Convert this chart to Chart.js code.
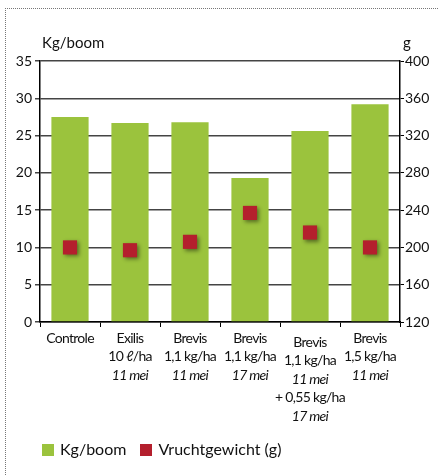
<!DOCTYPE html>
<html>
<head>
<meta charset="utf-8">
<script src="https://cdn.jsdelivr.net/npm/chart.js@4"></script>
<style>
  body { margin: 0; background: #fff; }
  #wrap { position: relative; width: 439px; height: 476px; overflow: hidden; font-family: Lato, sans-serif; }
  #frame { position: absolute; left: 5px; top: 8px; width: 600px; height: 600px; border-top: 1px dotted #777; border-left: 1px dotted #777; }
  canvas { position: absolute; left: 0; top: 0; }
  #legend { position: absolute; left: 42px; top: 439px; font-size: 16px; color: #111; }
  #legend span.box { display: inline-block; width: 12px; height: 12px; vertical-align: -1px; margin-right: 6px; }
  #legend span.item { margin-right: 14px; }
</style>
</head>
<body>
<div id="wrap">
  <div id="frame"></div>
  <canvas id="chart" width="439" height="476"></canvas>
  <div id="legend"></div>
</div>
<script>
// gegevens
const labelLines = [
  ["Controle"],
  ["Exilis", "10 ℓ/ha", "11 mei"],
  ["Brevis", "1,1 kg/ha", "11 mei"],
  ["Brevis", "1,1 kg/ha", "17 mei"],
  ["Brevis", "1,1 kg/ha", "11 mei", "+ 0,55 kg/ha", "17 mei"],
  ["Brevis", "1,5 kg/ha", "11 mei"]
];
const kgPerBoom = [27.5, 26.7, 26.8, 19.3, 25.6, 29.2];
const vruchtgewicht = [200, 197, 206, 237, 216, 200];
const leftTicks = { min: 0, max: 35, step: 5 };
const rightTicks = { min: 120, max: 400, step: 40 };

const green = "#9bc33d";
const red = "#b41f2d";
const font = "Lato, 'Open Sans', sans-serif";

// schaduw onder de rode blokjes
const shadowPlugin = {
  id: "shadow",
  beforeDatasetDraw(chart, args) {
    if (args.index !== 0) return;
    const ctx = chart.ctx;
    ctx.save();
    ctx.shadowColor = "rgba(0,0,0,0.45)";
    ctx.shadowBlur = 4;
    ctx.shadowOffsetX = 2;
    ctx.shadowOffsetY = 2;
  },
  afterDatasetDraw(chart, args) {
    if (args.index !== 0) return;
    chart.ctx.restore();
  }
};

// x-labels met cursieve datums, en de astitels
const labelPlugin = {
  id: "labels",
  afterDraw(chart) {
    const ctx = chart.ctx;
    const x = chart.scales.x;
    const top = chart.chartArea.bottom;
    ctx.save();
    ctx.fillStyle = "#111";
    ctx.textAlign = "center";
    ctx.textBaseline = "middle";
    ctx.letterSpacing = "-0.7px";
    labelLines.forEach((lines, i) => {
      const cx = x.getPixelForValue(i);
      const start = lines.length > 3 ? top + 20 : top + 16;
      lines.forEach((line, j) => {
        const italic = /mei$/.test(line);
        ctx.font = (italic ? "italic " : "") + "14px " + font;
        ctx.fillText(line, cx, start + j * 18.5);
      });
    });
    ctx.letterSpacing = "0px";
    ctx.font = "15px " + font;
    ctx.textAlign = "left";
    ctx.textBaseline = "alphabetic";
    ctx.fillText("Kg/boom", chart.chartArea.left + 2, 48);
    ctx.fillText("g", chart.chartArea.right + 3, 48);
    ctx.restore();
  }
};

const ctx = document.getElementById("chart").getContext("2d");
const chart = new Chart(ctx, {
  type: "bar",
  data: {
    labels: labelLines.map(l => l.join(" ")),
    datasets: [
      {
        type: "line",
        label: "Vruchtgewicht (g)",
        data: vruchtgewicht,
        yAxisID: "y1",
        showLine: false,
        pointStyle: "rect",
        pointRadius: 10,
        pointBorderWidth: 0,
        pointBackgroundColor: red,
        backgroundColor: red,
        borderColor: red
      },
      {
        label: "Kg/boom",
        data: kgPerBoom,
        yAxisID: "y",
        backgroundColor: green,
        categoryPercentage: 1,
        barPercentage: 0.62
      }
    ]
  },
  options: {
    responsive: false,
    animation: false,
    layout: { padding: { top: 61, left: 0, right: 0, bottom: 0 } },
    plugins: {
      legend: { display: false },
      tooltip: { enabled: false }
    },
    scales: {
      x: {
        offset: true,
        grid: { offset: true, drawOnChartArea: false, tickLength: 5, color: "#000", lineWidth: 1 },
        border: { color: "#000", width: 1.5 },
        ticks: { display: false },
        afterFit: s => { s.height = 154; }
      },
      y: {
        position: "left",
        min: leftTicks.min,
        max: leftTicks.max,
        ticks: { stepSize: leftTicks.step, color: "#111", padding: 3, font: { family: font, size: 14 } },
        grid: { color: "#444", lineWidth: 1.5, tickLength: 5 },
        border: { color: "#000", width: 1.5 },
        afterFit: s => { s.width = 40; }
      },
      y1: {
        position: "right",
        min: rightTicks.min,
        max: rightTicks.max,
        ticks: { stepSize: rightTicks.step, color: "#111", padding: 1, font: { family: font, size: 14 } },
        grid: { drawOnChartArea: false, color: "#000", tickLength: 4 },
        border: { color: "#000", width: 1.5 },
        afterFit: s => { s.width = 39; }
      }
    }
  },
  plugins: [shadowPlugin, labelPlugin]
});

// legenda
const legend = document.getElementById("legend");
[...chart.data.datasets].reverse().forEach(ds => {
  const item = document.createElement("span");
  item.className = "item";
  const box = document.createElement("span");
  box.className = "box";
  box.style.background = ds.backgroundColor;
  item.appendChild(box);
  item.appendChild(document.createTextNode(ds.label));
  legend.appendChild(item);
});
</script>
</body>
</html>
